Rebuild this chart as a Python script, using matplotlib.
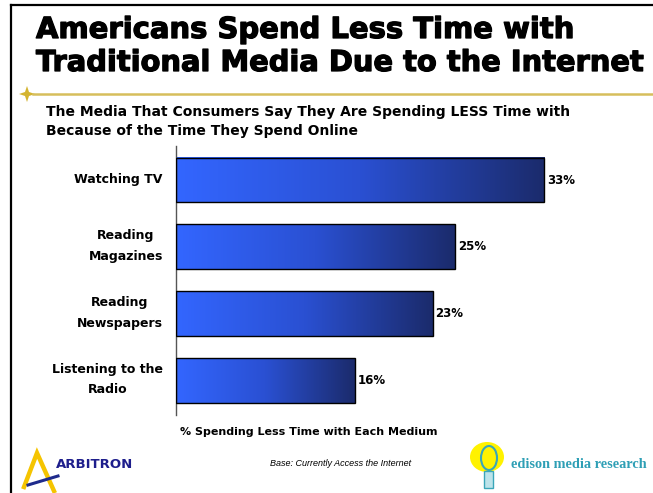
import numpy as np
import matplotlib
matplotlib.use("Agg")
import matplotlib.pyplot as plt
import matplotlib.patheffects as pe
from matplotlib.colors import LinearSegmentedColormap
from matplotlib.patches import Rectangle, Polygon, Ellipse
from matplotlib.lines import Line2D

categories = ["Watching TV", "Reading\nMagazines", "Reading\nNewspapers", "Listening to the\nRadio"]
values = [33, 25, 23, 16]
value_labels = ["33%", "25%", "23%", "16%"]

W, H = 653, 493
fig = plt.figure(figsize=(W / 100, H / 100), dpi=100)
fig.patch.set_facecolor("white")


def fx(x):
    return x / W


def fy(y):
    return 1 - y / H


heavy = [pe.withStroke(linewidth=0.9, foreground="black")]

# slide frame
fig.add_artist(Line2D([fx(11), fx(11)], [fy(5), fy(493)], color="black", lw=1.6))
fig.add_artist(Line2D([fx(11), fx(653)], [fy(5), fy(5)], color="black", lw=1.6))

# headline
fig.text(fx(36), fy(30), "Americans Spend Less Time with", fontsize=20.9,
         fontweight="bold", family="DejaVu Sans", va="center", ha="left", path_effects=heavy)
fig.text(fx(36), fy(63), "Traditional Media Due to the Internet", fontsize=20.8,
         fontweight="bold", family="DejaVu Sans", va="center", ha="left", path_effects=heavy)

# gold rule with star
gold = "#D6BE5C"
fig.add_artist(Line2D([fx(33), fx(653)], [fy(94), fy(94)], color=gold, lw=1.8))
sx, sy, r, ri = 27, 94, 8, 2
star = [(sx, sy - r), (sx + ri, sy - ri), (sx + r, sy), (sx + ri, sy + ri),
        (sx, sy + r), (sx - ri, sy + ri), (sx - r, sy), (sx - ri, sy - ri)]
fig.add_artist(Polygon([(fx(a), fy(b)) for a, b in star], closed=True,
                       facecolor="#D4B431", edgecolor="none", transform=fig.transFigure))

# subtitle
fig.text(fx(46), fy(112), "The Media That Consumers Say They Are Spending LESS Time with",
         fontsize=10, fontweight="bold", family="DejaVu Sans", va="center")
fig.text(fx(46), fy(131), "Because of the Time They Spend Online",
         fontsize=10, fontweight="bold", family="DejaVu Sans", va="center")

# chart area
ax = fig.add_axes([fx(176), fy(415), fx(600) - fx(176), (415 - 146) / H])
cmap = LinearSegmentedColormap.from_list("bluefade", ["#3366FF", "#2A50D2", "#1B2B6C"])
grad = np.linspace(0, 1, 256).reshape(1, -1)
bar_h = 0.67
ypos = np.arange(len(categories))
for i, v in enumerate(values):
    ax.imshow(grad, extent=[0, v, i + bar_h / 2, i - bar_h / 2], aspect="auto",
              cmap=cmap, zorder=2, interpolation="bicubic")
    ax.add_patch(Rectangle((0, i - bar_h / 2), v, bar_h, facecolor="none",
                           edgecolor="black", lw=1.0, zorder=3))
    ax.text(v + 0.25, i, value_labels[i], va="center", ha="left", fontsize=8.5,
            fontweight="bold", family="DejaVu Sans")

    # category names, placed left of the axis line
    ax.annotate(categories[i], xy=(0, i), xycoords=("axes fraction", "data"),
                xytext=(-9.5, 0.5), textcoords="offset points", ha="right", va="center",
                multialignment="center", linespacing=1.75, fontsize=9,
                fontweight="bold", family="DejaVu Sans")

ax.set_xlim(0, 38)
ax.set_ylim(3.52, -0.51)
ax.set_yticks([])
ax.set_xticks([])
for side in ["top", "right", "bottom"]:
    ax.spines[side].set_visible(False)
ax.spines["left"].set_color("#555555")
ax.spines["left"].set_linewidth(1.0)

fig.text(fx(309), fy(432), "% Spending Less Time with Each Medium", fontsize=8,
         fontweight="bold", family="DejaVu Sans", ha="center", va="center")

# footer
fig.text(fx(341), fy(463), "Base: Currently Access the Internet", fontsize=6.5,
         style="italic", family="Liberation Sans", ha="center", va="center")

# Arbitron mark
yellow = "#F5C400"
fig.add_artist(Line2D([fx(24), fx(37), fx(54)], [fy(487), fy(453), fy(491)],
                      color=yellow, lw=3.2, solid_joinstyle="miter"))
fig.add_artist(Line2D([fx(28), fx(58)], [fy(485), fy(476)], color="#1E2A8C", lw=2.2))
fig.text(fx(56), fy(464), "ARBITRON", fontsize=9.5, color="#1E1E8C", fontweight="bold",
         family="DejaVu Sans", ha="left", va="center")

# Edison mark
fig.add_artist(Ellipse((fx(487), fy(457)), 34 / W, 30 / H, facecolor="#FFF200",
                       edgecolor="none", transform=fig.transFigure))
fig.add_artist(Ellipse((fx(489), fy(458)), 16 / W, 24 / H, facecolor="none",
                       edgecolor="#3AA6B9", lw=1.5, transform=fig.transFigure))
fig.add_artist(Rectangle((fx(484), fy(488)), 9 / W, 17 / H, facecolor="#BDE3EA",
                         edgecolor="#3AA6B9", lw=1.0, transform=fig.transFigure))
fig.text(fx(511), fy(464), "edison media research", fontsize=10.3, color="#2E9FB5",
         fontweight="bold", family="Liberation Serif", ha="left", va="center")

fig.savefig("out.png", dpi=100)
